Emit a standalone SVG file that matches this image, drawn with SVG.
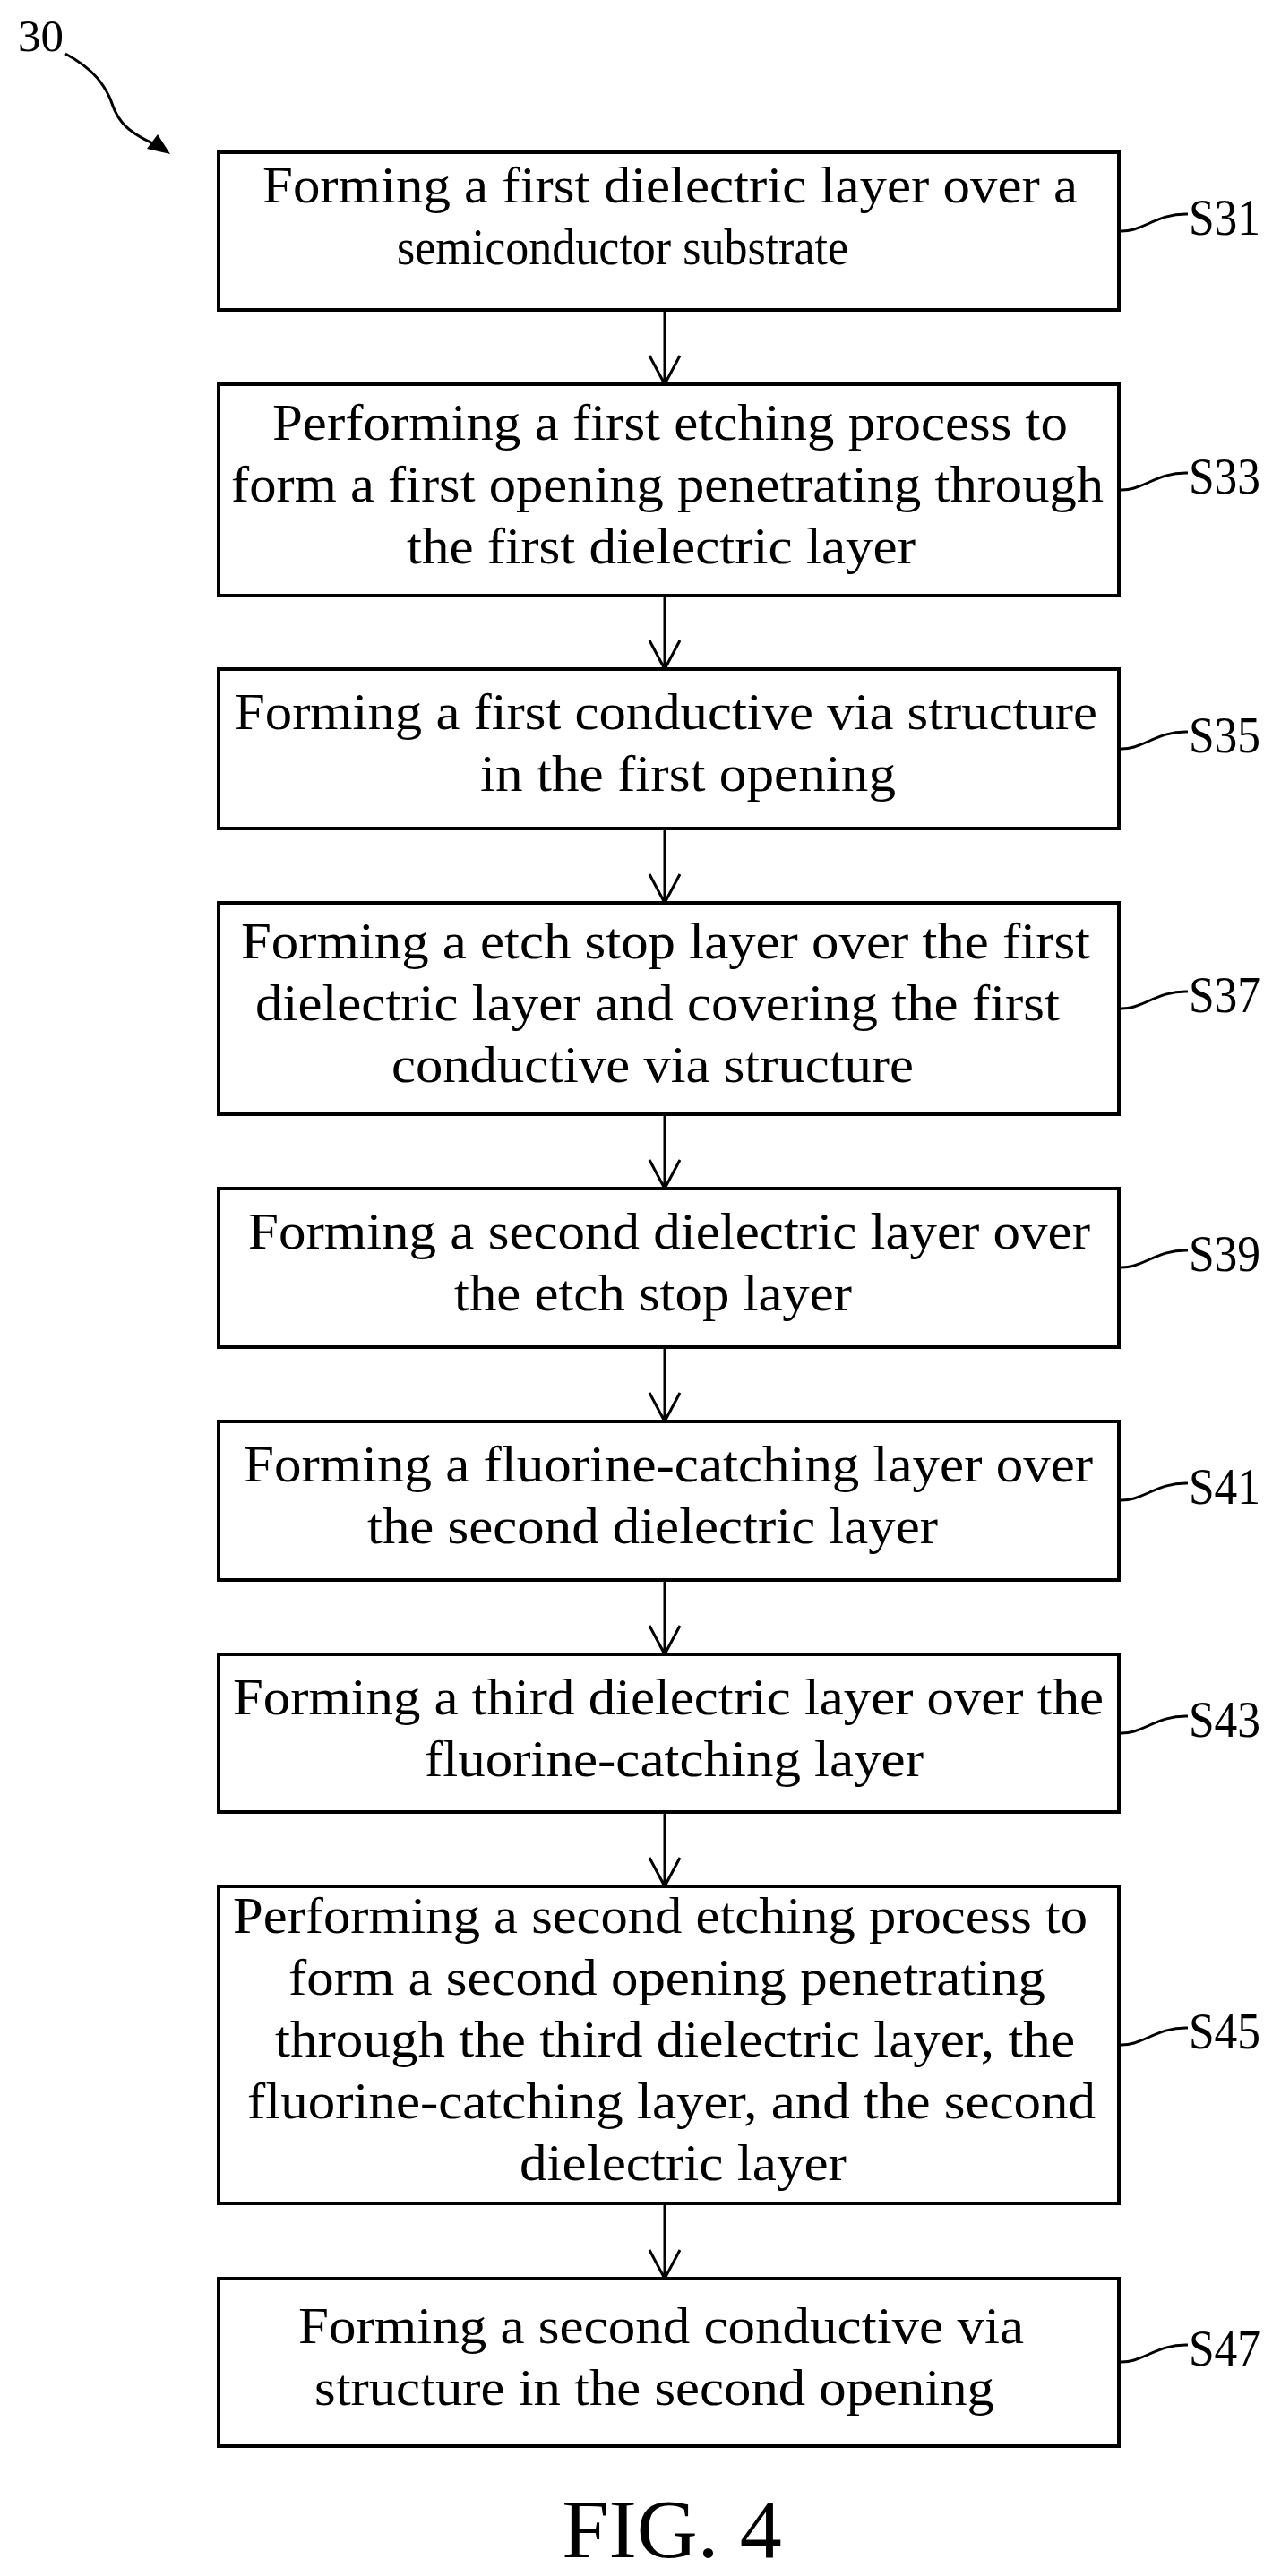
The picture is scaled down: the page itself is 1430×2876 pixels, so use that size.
<svg xmlns="http://www.w3.org/2000/svg" width="1430" height="2876" viewBox="0 0 1430 2876">
<style>
.b{fill:#fff;stroke:#000;stroke-width:4}
.t{font-family:"Liberation Serif","Times New Roman",serif;font-size:58px;fill:#000}
.c{fill:none;stroke:#000;stroke-width:3}
</style>
<rect width="1430" height="2876" fill="#fff"/>
<text x="20" y="57" font-family="Liberation Serif,serif" font-size="50" textLength="51" lengthAdjust="spacingAndGlyphs">30</text>
<path d="M73,60 C110,80 118,100 123,110 C130,130 135,145 175,162" fill="none" stroke="#000" stroke-width="3"/>
<path d="M190,172 L164,166 L176,150 z"/>
<g id="connectors">
<g class="c">
<path d="M742,346V429M725,397L742,429L759,397"/>
<path d="M742,665V747M725,715L742,747L759,715"/>
<path d="M742,925V1008M725,976L742,1008L759,976"/>
<path d="M742,1244V1327M725,1295L742,1327L759,1295"/>
<path d="M742,1504V1587M725,1555L742,1587L759,1555"/>
<path d="M742,1764V1847M725,1815L742,1847L759,1815"/>
<path d="M742,2023V2106M725,2074L742,2106L759,2074"/>
<path d="M742,2460V2544M725,2512L742,2544L759,2512"/>
</g>
<g class="c">
<path d="M1249,258 C1275,260 1290,238 1326,239"/>
<path d="M1249,547 C1275,549 1290,527 1326,528"/>
<path d="M1249,836 C1275,838 1290,816 1326,817"/>
<path d="M1249,1126 C1275,1128 1290,1106 1326,1107"/>
<path d="M1249,1415 C1275,1417 1290,1395 1326,1396"/>
<path d="M1249,1675 C1275,1677 1290,1655 1326,1656"/>
<path d="M1249,1935 C1275,1937 1290,1915 1326,1916"/>
<path d="M1249,2283 C1275,2285 1290,2263 1326,2264"/>
<path d="M1249,2637 C1275,2639 1290,2617 1326,2618"/>
</g>
</g>
<g id="S31"><rect class="b" x="244" y="170" width="1005" height="176"/>
<text class="t" x="293" y="226" textLength="910" lengthAdjust="spacingAndGlyphs">Forming a first dielectric layer over a</text>
<text class="t" x="443" y="295" textLength="504" lengthAdjust="spacingAndGlyphs">semiconductor substrate</text>
<text class="t" x="1327" y="262" textLength="80" lengthAdjust="spacingAndGlyphs">S31</text></g>
<g id="S33"><rect class="b" x="244" y="429" width="1005" height="236"/>
<text class="t" x="304" y="491" textLength="888" lengthAdjust="spacingAndGlyphs">Performing a first etching process to</text>
<text class="t" x="258" y="560" textLength="974" lengthAdjust="spacingAndGlyphs">form a first opening penetrating through</text>
<text class="t" x="454" y="629" textLength="568" lengthAdjust="spacingAndGlyphs">the first dielectric layer</text>
<text class="t" x="1327" y="551" textLength="80" lengthAdjust="spacingAndGlyphs">S33</text></g>
<g id="S35"><rect class="b" x="244" y="747" width="1005" height="178"/>
<text class="t" x="262" y="814" textLength="963" lengthAdjust="spacingAndGlyphs">Forming a first conductive via structure</text>
<text class="t" x="536" y="883" textLength="464" lengthAdjust="spacingAndGlyphs">in the first opening</text>
<text class="t" x="1327" y="840" textLength="80" lengthAdjust="spacingAndGlyphs">S35</text></g>
<g id="S37"><rect class="b" x="244" y="1008" width="1005" height="236"/>
<text class="t" x="269" y="1070" textLength="948" lengthAdjust="spacingAndGlyphs">Forming a etch stop layer over the first</text>
<text class="t" x="285" y="1139" textLength="898" lengthAdjust="spacingAndGlyphs">dielectric layer and covering the first</text>
<text class="t" x="437" y="1208" textLength="583" lengthAdjust="spacingAndGlyphs">conductive via structure</text>
<text class="t" x="1327" y="1130" textLength="80" lengthAdjust="spacingAndGlyphs">S37</text></g>
<g id="S39"><rect class="b" x="244" y="1327" width="1005" height="177"/>
<text class="t" x="277" y="1394" textLength="940" lengthAdjust="spacingAndGlyphs">Forming a second dielectric layer over</text>
<text class="t" x="507" y="1463" textLength="444" lengthAdjust="spacingAndGlyphs">the etch stop layer</text>
<text class="t" x="1327" y="1419" textLength="80" lengthAdjust="spacingAndGlyphs">S39</text></g>
<g id="S41"><rect class="b" x="244" y="1587" width="1005" height="177"/>
<text class="t" x="272" y="1654" textLength="948" lengthAdjust="spacingAndGlyphs">Forming a fluorine-catching layer over</text>
<text class="t" x="410" y="1723" textLength="637" lengthAdjust="spacingAndGlyphs">the second dielectric layer</text>
<text class="t" x="1327" y="1679" textLength="80" lengthAdjust="spacingAndGlyphs">S41</text></g>
<g id="S43"><rect class="b" x="244" y="1847" width="1005" height="176"/>
<text class="t" x="260" y="1914" textLength="972" lengthAdjust="spacingAndGlyphs">Forming a third dielectric layer over the</text>
<text class="t" x="474" y="1983" textLength="557" lengthAdjust="spacingAndGlyphs">fluorine-catching layer</text>
<text class="t" x="1327" y="1939" textLength="80" lengthAdjust="spacingAndGlyphs">S43</text></g>
<g id="S45"><rect class="b" x="244" y="2106" width="1005" height="354"/>
<text class="t" x="260" y="2158" textLength="954" lengthAdjust="spacingAndGlyphs">Performing a second etching process to</text>
<text class="t" x="322" y="2227" textLength="845" lengthAdjust="spacingAndGlyphs">form a second opening penetrating</text>
<text class="t" x="307" y="2296" textLength="893" lengthAdjust="spacingAndGlyphs">through the third dielectric layer, the</text>
<text class="t" x="276" y="2365" textLength="947" lengthAdjust="spacingAndGlyphs">fluorine-catching layer, and the second</text>
<text class="t" x="580" y="2434" textLength="365" lengthAdjust="spacingAndGlyphs">dielectric layer</text>
<text class="t" x="1327" y="2287" textLength="80" lengthAdjust="spacingAndGlyphs">S45</text></g>
<g id="S47"><rect class="b" x="244" y="2544" width="1005" height="187"/>
<text class="t" x="333" y="2616" textLength="810" lengthAdjust="spacingAndGlyphs">Forming a second conductive via</text>
<text class="t" x="351" y="2685" textLength="759" lengthAdjust="spacingAndGlyphs">structure in the second opening</text>
<text class="t" x="1327" y="2641" textLength="80" lengthAdjust="spacingAndGlyphs">S47</text></g>
<text x="750" y="2855" text-anchor="middle" font-family="Liberation Serif,serif" font-size="94">FIG. 4</text>
</svg>
